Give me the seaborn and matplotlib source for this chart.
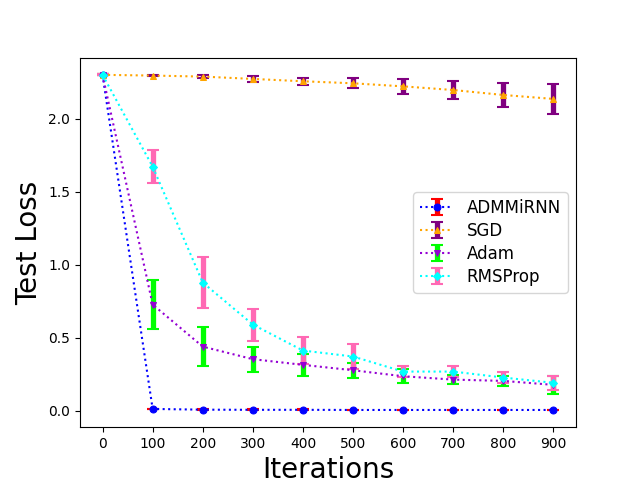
import matplotlib
matplotlib.use("Agg")
import matplotlib.pyplot as plt
import seaborn as sns
import pandas as pd
from matplotlib.legend_handler import HandlerTuple

iterations = [0, 100, 200, 300, 400, 500, 600, 700, 800, 900]

admm_loss = [2.30, 0.011, 0.006, 0.005, 0.005, 0.004, 0.004, 0.004, 0.004, 0.004]
admm_err = [0.003, 0.003, 0.003, 0.003, 0.003, 0.003, 0.003, 0.003, 0.003, 0.003]

sgd_loss = [2.30, 2.295, 2.288, 2.272, 2.256, 2.242, 2.221, 2.196, 2.162, 2.135]
sgd_err = [0.003, 0.006, 0.011, 0.02, 0.025, 0.035, 0.05, 0.063, 0.082, 0.10]

adam_loss = [2.30, 0.726, 0.438, 0.352, 0.313, 0.276, 0.235, 0.212, 0.203, 0.176]
adam_err = [0.003, 0.165, 0.132, 0.085, 0.073, 0.05, 0.048, 0.031, 0.035, 0.06]

rms_loss = [2.30, 1.671, 0.877, 0.589, 0.411, 0.370, 0.267, 0.267, 0.226, 0.190]
rms_err = [0.003, 0.113, 0.172, 0.11, 0.095, 0.085, 0.035, 0.04, 0.037, 0.05]

series = [
    ("ADMMiRNN", admm_loss, admm_err, "blue", "red", "o"),
    ("SGD", sgd_loss, sgd_err, "orange", "purple", "^"),
    ("Adam", adam_loss, adam_err, "darkviolet", "lime", "v"),
    ("RMSProp", rms_loss, rms_err, "cyan", "hotpink", "D"),
]

fig, ax = plt.subplots(figsize=(6.4, 4.8), dpi=100)

handles = []
labels = []
for name, loss, err, lc, ec, mk in series:
    df = pd.DataFrame({"Iterations": iterations, "loss": loss})
    eb = ax.errorbar(iterations, loss, yerr=err, fmt="none", ecolor=ec,
                     elinewidth=3.8, capsize=4.5, capthick=1.5, zorder=2)
    sns.lineplot(data=df, x="Iterations", y="loss", ax=ax, color=lc,
                 linestyle=":", linewidth=1.5, marker=mk,
                 markersize=5 if mk != "D" else 4.5,
                 markeredgecolor=lc, zorder=3, legend=False)
    line = ax.lines[-1]
    handles.append((eb, line))
    labels.append(name)

ax.set_xticks(iterations)
ax.set_yticks([0.0, 0.5, 1.0, 1.5, 2.0])
ax.set_xlabel("Iterations", fontsize=20)
ax.set_ylabel("Test Loss", fontsize=20)
ax.legend(handles, labels, loc="center right", fontsize=12, labelspacing=0.3,
          handler_map={tuple: HandlerTuple(ndivide=1)})

fig.savefig("out.png", dpi=100)
